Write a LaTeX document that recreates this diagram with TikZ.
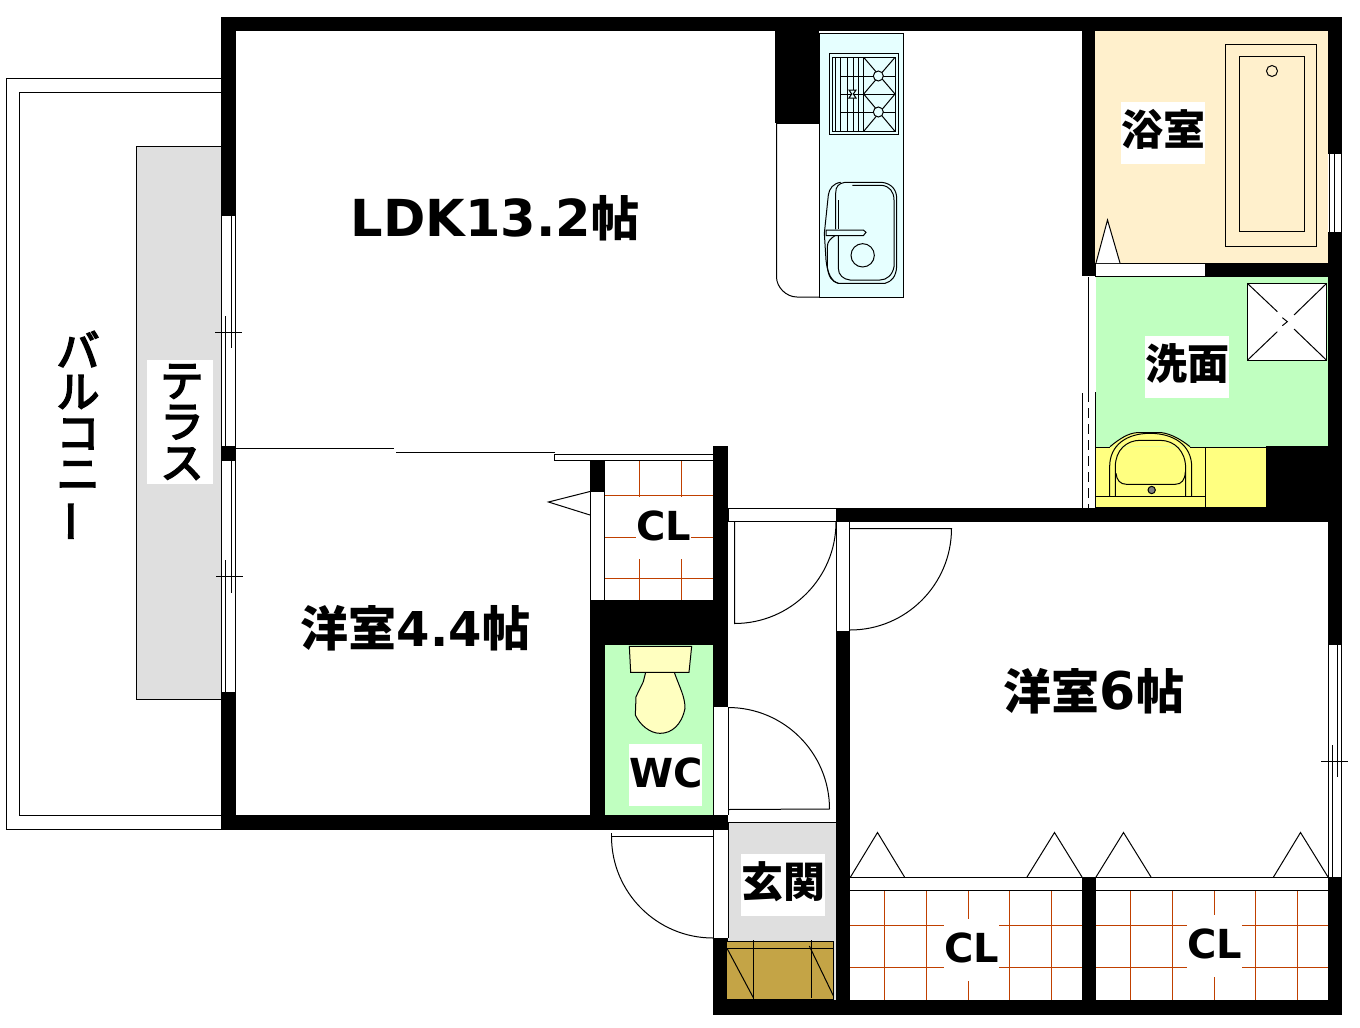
\documentclass[tikz,border=0pt]{standalone}
\usepackage{fontspec}
\setmainfont{DejaVu Sans}
\newfontfamily\jp{Noto Sans CJK JP}
\newfontfamily\jpk{Noto Sans CJK JP}[FakeBold=4]
\newcommand{\lat}{\fontspec{DejaVu Sans}\bfseries}
\definecolor{wetgreen}{HTML}{C0FFC0}
\definecolor{bathcream}{HTML}{FFF0CC}
\definecolor{floorgray}{HTML}{DFDFDF}
\definecolor{kitchenblue}{HTML}{E6FFFF}
\definecolor{vanity}{HTML}{FFFF80}
\definecolor{toiletc}{HTML}{FFFFC0}
\definecolor{shoebox}{HTML}{C4A446}
\definecolor{gridc}{HTML}{C04000}
\tikzset{
  wall/.style={fill=black,draw=none},
  thin line/.style={draw=black,line width=1pt},
  gridline/.style={draw=gridc,line width=1pt},
  whitebox/.style={fill=white,draw=none},
  jptext/.style={font=\jp\bfseries\fontsize{42}{42}\selectfont,inner sep=0pt,text=black},
  cltext/.style={font=\lat\fontsize{40}{40}\selectfont,inner sep=0pt,text=black},
  roomtext/.style={font=\fontsize{48}{48}\selectfont,inner sep=0pt,text=black},
  vtext/.style={font=\jpk\fontsize{43}{41}\selectfont,inner sep=0pt,align=center,text=black},
  zoomed/.style={x=0.33333pt,y=-0.33333pt},
}
\begin{document}
\begin{tikzpicture}[x=1pt,y=-1pt,line width=1pt]
\useasboundingbox (0,0) rectangle (1360,1028);
\fill[white] (0,0) rectangle (1360,1028);

% balcony and terrace
\draw[thin line] (221,78.5) -- (6.5,78.5) -- (6.5,829.5) -- (221,829.5);
\draw[thin line] (221,92.5) -- (19.5,92.5) -- (19.5,815.5) -- (221,815.5);
\draw[thin line,fill=floorgray] (221,146.5) -- (136.5,146.5) -- (136.5,699.5) -- (221,699.5);
\fill[whitebox] (147,360) rectangle (213,484);

% room floors
\fill[bathcream] (1095,31) rectangle (1328,263);
\fill[wetgreen] (1096,277) rectangle (1328,447);
\fill[wetgreen] (605,645) rectangle (713,815);
\fill[floorgray] (728,822) rectangle (836,1000);

% walls
\fill[wall] (221,17) rectangle (1342,31);
\fill[wall] (221,17) rectangle (236,216);
\fill[wall] (221,446) rectangle (236,461);
\fill[wall] (221,692) rectangle (236,830);
\fill[wall] (221,815) rectangle (728,830);
\fill[wall] (775,31) rectangle (819,123);
\fill[wall] (1082,31) rectangle (1095,276);
\fill[wall] (1205,263) rectangle (1342,277);
\fill[wall] (1328,17) rectangle (1342,154);
\fill[wall] (1328,232) rectangle (1342,645);
\fill[wall] (1266,446) rectangle (1342,508);
\fill[wall] (836,508) rectangle (1342,522);
\fill[wall] (836,631) rectangle (850,1015);
\fill[wall] (713,446) rectangle (728,707);
\fill[wall] (590,461) rectangle (605,492);
\fill[wall] (590,600) rectangle (728,645);
\fill[wall] (590,600) rectangle (605,830);
\fill[wall] (713,938) rectangle (728,1015);
\fill[wall] (713,1000) rectangle (1342,1015);
\fill[wall] (1082,877) rectangle (1096,1015);
\fill[wall] (1328,877) rectangle (1342,1015);

% left windows
\draw[thin line] (221.5,216) -- (221.5,446) (235.5,216) -- (235.5,446);
\draw[thin line] (225.5,316) -- (225.5,446) (231.5,216) -- (231.5,348);
\draw[thin line] (215,332) -- (242,332);
\draw[thin line] (221.5,461) -- (221.5,692) (235.5,461) -- (235.5,692);
\draw[thin line] (225.5,560) -- (225.5,692) (231.5,461) -- (231.5,593);
\draw[thin line] (216,576.5) -- (243,576.5);
% bath window
\draw[thin line] (1329,154) -- (1329,232) (1334.5,154) -- (1334.5,232) (1341,154) -- (1341,232);
% room 6 window
\draw[thin line] (1328.5,645) -- (1328.5,877) (1341.5,645) -- (1341.5,877);
\draw[thin line] (1332.5,745) -- (1332.5,877) (1337.5,645) -- (1337.5,777);
\draw[thin line] (1321,761.5) -- (1348,761.5);

% partition LDK / room 4.4
\draw[thin line] (236,448.5) -- (394,448.5);
\draw[thin line] (396,452.5) -- (555,452.5);
\draw[thin line,fill=white] (554.5,454.5) rectangle (713,460.5);

% upper CL
\draw[thin line] (590.5,492) -- (590.5,600) (604.5,492) -- (604.5,600);
\draw[thin line] (590,491.5) -- (548.5,502) -- (590,515);
\draw[gridline] (639.5,461) -- (639.5,497) (681.5,461) -- (681.5,497);
\draw[gridline] (639.5,559) -- (639.5,600) (681.5,559) -- (681.5,600);
\draw[gridline] (605,495.5) -- (713,495.5) (605,578.5) -- (713,578.5);
\draw[gridline] (605,537.5) -- (636,537.5) (691,537.5) -- (713,537.5);

% kitchen
\draw[thin line] (776.5,123) -- (776.5,277) .. controls (776.5,287) and (786,297) .. (797,297) -- (819,297);
\draw[thin line] (776.5,123.5) -- (819,123.5);
\draw[thin line,fill=kitchenblue] (819,33.5) rectangle (903.5,297);
\begin{scope}[shift={(770,20)},zoomed]
  \draw[thin line] (178,100) rectangle (384,344) (187,112) rectangle (375,334);
  \foreach \vx in {197,212,232,249,266,281} {\draw[thin line] (\vx,112) -- (\vx,334);}
  \draw[thin line] (212,168) -- (375,168) (212,222) -- (375,222) (212,277) -- (375,277);
  \draw[thin line] (281,112) -- (375,222) -- (281,334) (375,112) -- (281,222) -- (375,334);
  \draw[thin line,fill=kitchenblue] (325,168) circle (15) (325,276) circle (15);
  \draw[thin line,fill=kitchenblue] (237,210) -- (258,210) -- (250,222) -- (258,234) -- (237,234) -- (245,222) -- cycle;
  % sink
  \draw[thin line] (197,628) -- (197,520) .. controls (197,500) and (205,490) .. (225,487) -- (335,487) .. controls (365,490) and (380,510) .. (380,535) -- (380,740) .. controls (378,770) and (365,785) .. (345,790) -- (205,790) .. controls (185,785) and (175,770) .. (172,740) -- (172,680) .. controls (172,665) and (182,655) .. (195,647);
  \draw[thin line] (212,487) .. controls (190,490) and (178,505) .. (175,525) -- (163,640) -- (168,720) .. controls (172,760) and (185,785) .. (205,790);
  \draw[thin line] (247,496) -- (335,496) .. controls (358,498) and (372,515) .. (372,540) -- (372,740) .. controls (368,765) and (350,780) .. (330,780) -- (240,780) .. controls (220,778) and (205,765) .. (205,745) -- (205,647);
  \draw[thin line] (205,628) -- (205,540);
  \draw[thin line] (168,630) -- (280,630) -- (288,637) -- (280,647) -- (168,647) -- cycle;
  \draw[thin line] (278,706) circle (35);
\end{scope}

% bath
\draw[thin line,fill=white] (1095.5,263.5) rectangle (1205,276);
\draw[thin line,fill=white] (1096,263) -- (1107.5,220) -- (1120,263);
\draw[thin line] (1225.5,44.5) rectangle (1316.5,246.5);
\draw[thin line] (1239.5,56.5) rectangle (1304.5,231.5);
\draw[thin line] (1272,71) circle (5.5);

% wash room
\draw[thin line] (1088.5,277) -- (1088.5,392);
\draw[thin line,dashed,dash pattern=on 10pt off 6pt] (1088.5,392) -- (1088.5,508);
\draw[thin line] (1082.5,393) -- (1082.5,508) (1095.5,392) -- (1095.5,508);
\fill[vanity] (1096,447) rectangle (1266,507.5);
\draw[thin line] (1096,507.5) -- (1266,507.5);
\begin{scope}[shift={(1070,270)},zoomed]
  \draw[thin line] (78,532) -- (120,532) (360,532) -- (588,532);
  \draw[thin line,fill=vanity] (120,530) .. controls (150,505) and (175,490) .. (200,488) -- (275,488) .. controls (305,492) and (335,510) .. (360,530);
  \draw[thin line] (119,680) -- (119,590) .. controls (119,525) and (170,490) .. (240,490) .. controls (310,490) and (365,525) .. (365,590) -- (365,680);
  \draw[thin line] (136,680) -- (136,590) .. controls (136,540) and (170,511) .. (210,511) -- (270,511) .. controls (315,511) and (347,545) .. (347,595) -- (347,680);
  \draw[thin line] (138,610) .. controls (140,630) and (150,643) .. (170,643) -- (315,643) .. controls (335,643) and (345,630) .. (346,605);
  \draw[thin line,fill=gray] (245,660) circle (11);
  \draw[thin line] (78,680) -- (406,680) (406,532) -- (406,710);
  \draw[thin line,fill=white] (532,40) rectangle (770,271);
  \draw[thin line] (532,40) -- (622,125) (770,40) -- (672,135) (532,271) -- (622,185) (770,271) -- (672,177);
  \draw[thin line] (637,143) -- (652,155) -- (637,167);
\end{scope}

% corridor, doors
\draw[thin line,fill=white] (728,508.5) rectangle (836,521);
\draw[thin line] (734.5,521) -- (734.5,623.5) arc[start angle=90,end angle=0,radius=101.5];
\draw[thin line] (836.5,522) -- (836.5,631) (849.5,522) -- (849.5,631);
\draw[thin line] (850,528.5) -- (951.5,528.5) arc[start angle=0,end angle=90,radius=101.5];
\draw[thin line] (713.5,707) -- (713.5,815) (728,707) -- (728,815);
\draw[thin line] (728,707.5) arc[start angle=-90,end angle=0,radius=101.5];
\draw[thin line] (728,809.5) -- (829.5,809);
\draw[thin line] (728,822.5) -- (836,822.5);

% entrance
\draw[thin line] (713.5,830) -- (713.5,938) (728,822) -- (728,938);
\draw[thin line] (611.5,833) -- (611.5,836.5) -- (713.5,836.5);
\draw[thin line] (611.5,836.5) arc[start angle=180,end angle=90,radius=101.5];
\begin{scope}[shift={(600,820)},zoomed]
  \draw[thin line,fill=shoebox] (381,364) -- (700,364) -- (700,538) -- (381,538);
  \draw[thin line] (381,385) -- (700,385);
  \draw[thin line] (460,360) -- (460,538) (634,360) -- (634,535);
  \draw[thin line] (381,385) -- (460,533) (628,378) -- (700,527);
\end{scope}

% toilet
\begin{scope}[shift={(590,630)},zoomed]
  \draw[thin line,fill=toiletc] (167,127) -- (160,155) -- (138,200) -- (136,255) .. controls (150,285) and (180,310) .. (210,310) .. controls (245,310) and (275,285) .. (285,235) .. controls (285,200) and (270,175) .. (254,130) -- (253,127) -- cycle;
  \draw[thin line,fill=toiletc] (118,49) -- (305,49) -- (297,127) -- (122,127) -- cycle;
\end{scope}

% bottom closets
\draw[thin line] (850,877.5) -- (1082,877.5) (850,890.5) -- (1082,890.5);
\draw[thin line] (1096,877.5) -- (1328,877.5) (1096,890.5) -- (1328,890.5);
\draw[gridline] (884.5,891) -- (884.5,1000) (926.5,891) -- (926.5,1000) (1009.5,891) -- (1009.5,1000) (1051.5,891) -- (1051.5,1000);
\draw[gridline] (968.5,891) -- (968.5,919) (968.5,981) -- (968.5,1000);
\draw[gridline] (850,925.5) -- (944,925.5) (999,925.5) -- (1082,925.5) (850,967.5) -- (944,967.5) (999,967.5) -- (1082,967.5);
\draw[gridline] (1130.5,891) -- (1130.5,1000) (1172.5,891) -- (1172.5,1000) (1255.5,891) -- (1255.5,1000) (1297.5,891) -- (1297.5,1000);
\draw[gridline] (1214.5,891) -- (1214.5,915) (1214.5,977) -- (1214.5,1000);
\draw[gridline] (1096,925.5) -- (1187,925.5) (1242,925.5) -- (1328,925.5) (1096,967.5) -- (1187,967.5) (1242,967.5) -- (1328,967.5);
\draw[thin line] (850.5,877) -- (877.5,832.5) -- (904.5,877);
\draw[thin line] (1027,877) -- (1054.5,832.5) -- (1082,877);
\draw[thin line] (1096,877) -- (1123.5,832.5) -- (1151,877);
\draw[thin line] (1273.5,877) -- (1300.5,832.5) -- (1328,877);

% label backgrounds
\fill[whitebox] (1121,102) rectangle (1205,164);
\fill[whitebox] (1145,336) rectangle (1229,398);
\fill[whitebox] (741,854) rectangle (825,916);
\fill[whitebox] (629,744) rectangle (702,806);

% labels
\node[roomtext] (ldk) at (495,218) {{\lat\fontsize{51}{51}\selectfont LDK13.2}{\jp\bfseries 帖}};
\node[roomtext] (room44) at (415.5,628) {{\jp\bfseries 洋室}{\lat 4.4}{\jp\bfseries 帖}};
\node[roomtext] (room6) at (1094,691) {{\jp\bfseries 洋室}{\lat\fontsize{52}{52}\selectfont 6}{\jp\bfseries 帖}};
\node[jptext] (bath) at (1163,129.5) {浴室};
\node[jptext] (wash) at (1187,363.5) {洗面};
\node[jptext] (entry) at (783,881.5) {玄関};
\node[cltext] (wc) at (666,773) {WC};
\node[cltext] (clA) at (664,526) {CL};
\node[cltext] (clB) at (972,948) {CL};
\node[cltext] (clC) at (1215,944) {CL};
\node[vtext] (terrace) at (182,422) {テ\\ラ\\ス};
\node[vtext] (balcony) at (78,437) {バ\\ル\\コ\\ニ\\\rotatebox[origin=c]{90}{ー}};
\end{tikzpicture}
\end{document}
